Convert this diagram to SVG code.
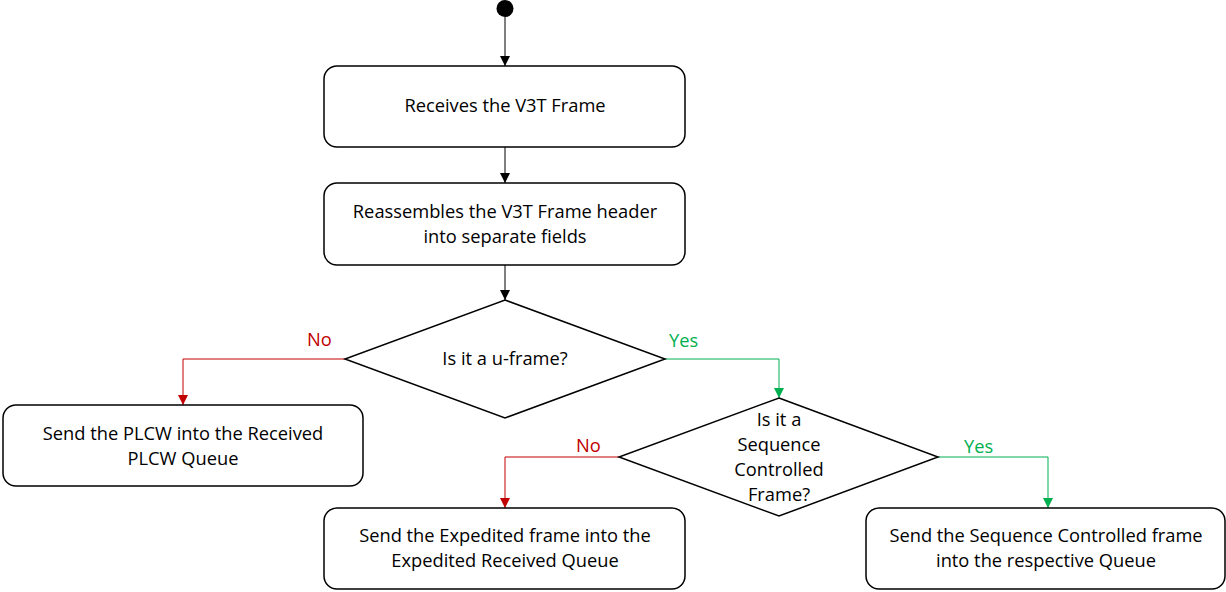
<svg xmlns="http://www.w3.org/2000/svg" width="1226" height="592" viewBox="0 0 1226 592">
<style>
.box{fill:#fff;stroke:#000;stroke-width:1.5}
.t{font-family:"Open Sans",Lato,"Liberation Sans",sans-serif;font-size:18.3px;fill:#000;text-anchor:middle}
.no{fill:#C00000;text-anchor:start}
.yes{fill:#00B050;text-anchor:start}
.c{fill:none;stroke:#000;stroke-width:1}
.cr{fill:none;stroke:#C00000;stroke-width:1}
.cg{fill:none;stroke:#00B050;stroke-width:1}
</style>
<defs>
<marker id="ab" markerWidth="10" markerHeight="10" refX="10" refY="5" orient="auto" markerUnits="userSpaceOnUse"><path d="M0,0 L10,5 L0,10 Z" fill="#000"/></marker>
<marker id="ar" markerWidth="10" markerHeight="10" refX="10" refY="5" orient="auto" markerUnits="userSpaceOnUse"><path d="M0,0 L10,5 L0,10 Z" fill="#C00000"/></marker>
<marker id="ag" markerWidth="10" markerHeight="10" refX="10" refY="5" orient="auto" markerUnits="userSpaceOnUse"><path d="M0,0 L10,5 L0,10 Z" fill="#00B050"/></marker>
</defs>
<rect width="1226" height="592" fill="#fff"/>
<g id="connectors">
<path class="c" d="M505,17 V66" marker-end="url(#ab)"/>
<path class="c" d="M505,147 V183" marker-end="url(#ab)"/>
<path class="c" d="M505,265 V300" marker-end="url(#ab)"/>
<path class="cr" d="M345,359 H183 V405" marker-end="url(#ar)"/>
<path class="cg" d="M665,359 H779 V398" marker-end="url(#ag)"/>
<path class="cr" d="M619,457 H505 V508" marker-end="url(#ar)"/>
<path class="cg" d="M938,457 H1048 V508" marker-end="url(#ag)"/>
<text class="t no" x="307" y="346">No</text>
<text class="t yes" x="669" y="347">Yes</text>
<text class="t no" x="576" y="452">No</text>
<text class="t yes" x="964" y="453">Yes</text>
</g>
<g id="start"><circle cx="505" cy="8.5" r="8.5" fill="#000"/></g>
<g id="n1"><rect class="box" x="324" y="66" width="361" height="81" rx="13"/><text class="t" x="505" y="112">Receives the V3T Frame</text></g>
<g id="n2"><rect class="box" x="324" y="183" width="361" height="82" rx="13"/><text class="t" x="505" y="218">Reassembles the V3T Frame header</text><text class="t" x="505" y="243">into separate fields</text></g>
<g id="d1"><path class="box" d="M505,300 L665,359 L505,418 L345,359 Z"/><text class="t" x="505" y="365">Is it a u-frame?</text></g>
<g id="n3"><rect class="box" x="3" y="405" width="360" height="81" rx="13"/><text class="t" x="183" y="440">Send the PLCW into the Received</text><text class="t" x="183" y="465">PLCW Queue</text></g>
<g id="d2"><path class="box" d="M779,398 L938,457 L779,516 L619,457 Z"/><text class="t" x="779" y="426">Is it a</text><text class="t" x="779" y="451">Sequence</text><text class="t" x="779" y="476">Controlled</text><text class="t" x="779" y="501">Frame?</text></g>
<g id="n4"><rect class="box" x="324" y="508" width="361" height="81" rx="13"/><text class="t" x="505" y="542">Send the Expedited frame into the</text><text class="t" x="505" y="567">Expedited Received Queue</text></g>
<g id="n5"><rect class="box" x="866" y="508" width="359" height="81" rx="13"/><text class="t" x="1046" y="542">Send the Sequence Controlled frame</text><text class="t" x="1046" y="567">into the respective Queue</text></g>
</svg>
